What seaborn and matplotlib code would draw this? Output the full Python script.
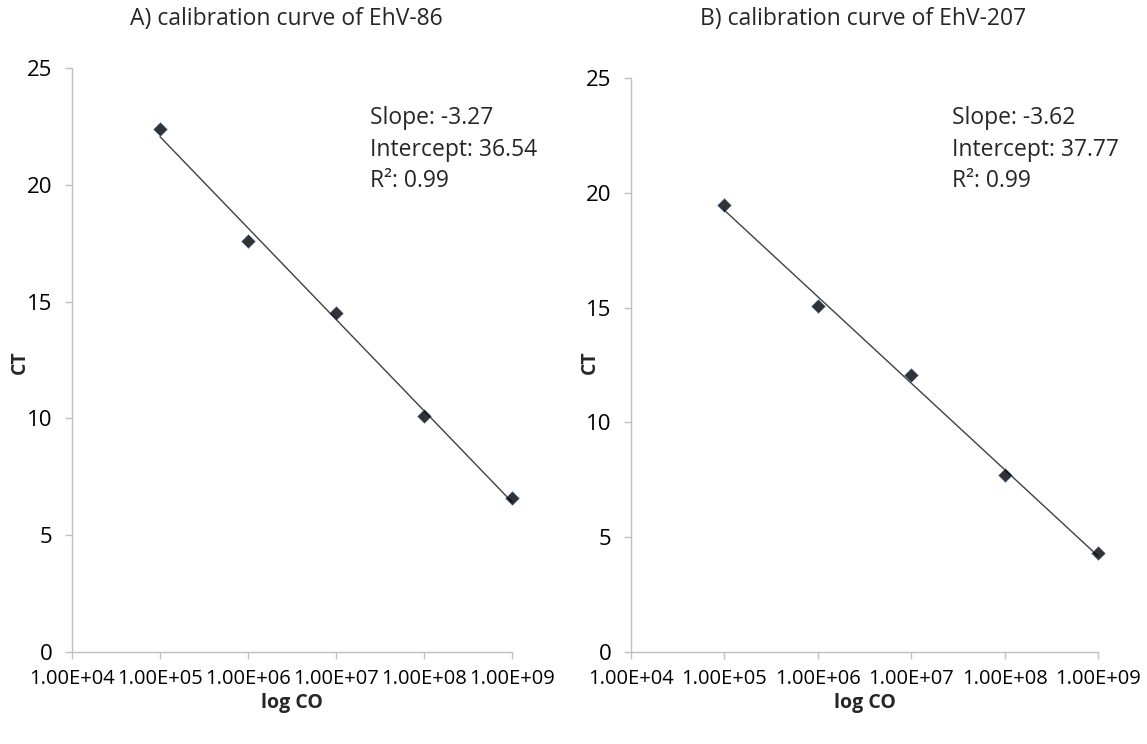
import numpy as np
import pandas as pd
import matplotlib
matplotlib.use("Agg")
import matplotlib.pyplot as plt
import seaborn as sns
from matplotlib.ticker import FixedLocator, FixedFormatter, NullLocator

# ---- data ----
copies = [1e5, 1e6, 1e7, 1e8, 1e9]
ct_ehv86 = [22.4, 17.6, 14.5, 10.1, 6.6]
ct_ehv207 = [19.45, 15.05, 12.05, 7.7, 4.3]
x_ticks = [1e4, 1e5, 1e6, 1e7, 1e8, 1e9]
x_tick_labels = ["1.00E+04", "1.00E+05", "1.00E+06", "1.00E+07", "1.00E+08", "1.00E+09"]
y_ticks = [0, 5, 10, 15, 20, 25]
titles = ["A) calibration curve of EhV-86", "B) calibration curve of EhV-207"]
stats = ["Slope: -3.27\nIntercept: 36.54\nR\u00b2: 0.99",
         "Slope: -3.62\nIntercept: 37.77\nR\u00b2: 0.99"]

sns.set_style("white")
plt.rcParams["font.family"] = ["Open Sans", "DejaVu Sans"]

W, H = 1147, 744
fig = plt.figure(figsize=(W / 100, H / 100), dpi=100)

def fx(px):
    return px / W

def fy(py):
    return 1 - py / H

panels = [
    dict(left=72, right=512, top=68, bottom=652, ct=ct_ehv86,
         title_x=286, ylab_x=20, stats_xy=(0.677, 0.935)),
    dict(left=631, right=1098, top=78, bottom=652, ct=ct_ehv207,
         title_x=863, ylab_x=590, stats_xy=(0.687, 0.951)),
]

spine_col = "#BFBFBF"
fs_x = 14.5
fs_y = 16
fs_big = 16.5

for i, p in enumerate(panels):
    ax = fig.add_axes([fx(p["left"]), fy(p["bottom"]),
                       fx(p["right"] - p["left"]), (p["bottom"] - p["top"]) / H])
    df = pd.DataFrame({"copies": copies, "ct": p["ct"]})
    ax.set_xscale("log")
    sns.regplot(data=df, x="copies", y="ct", ax=ax, logx=True, ci=None,
                marker="D", color="black",
                scatter_kws=dict(s=50, edgecolor="#5b8fd0", linewidths=0.4,
                                 zorder=3, clip_on=False),
                line_kws=dict(color="#404040", lw=1.0, zorder=2, clip_on=False))
    ax.set_xlim(1e4, 1e9)
    ax.set_ylim(0, 25)
    ax.xaxis.set_major_locator(FixedLocator(x_ticks))
    ax.xaxis.set_major_formatter(FixedFormatter(x_tick_labels))
    ax.xaxis.set_minor_locator(NullLocator())
    ax.set_yticks(y_ticks)
    ax.set_xlabel("")
    ax.set_ylabel("")
    for s in ["top", "right"]:
        ax.spines[s].set_visible(False)
    for s in ["left", "bottom"]:
        ax.spines[s].set_color(spine_col)
        ax.spines[s].set_linewidth(1.0)
    ax.tick_params(axis="both", which="major", direction="out", length=5,
                   width=1.0, color=spine_col, labelcolor="black",
                   left=True, bottom=True)
    ax.tick_params(axis="y", pad=9, labelsize=fs_y)
    ax.tick_params(axis="x", pad=7, labelsize=fs_x)
    ax.text(p["stats_xy"][0], p["stats_xy"][1], stats[i],
            transform=ax.transAxes, ha="left", va="top", fontsize=fs_big,
            linespacing=1.42)
    cx = (p["left"] + p["right"]) / 2
    fig.text(fx(p["title_x"]), fy(19), titles[i], ha="center", va="center", fontsize=fs_big)
    fig.text(fx(cx), fy(703), "log CO", ha="center", va="center",
             fontsize=14, fontweight="bold")
    fig.text(fx(p["ylab_x"]), fy(362), "CT", ha="center", va="center",
             rotation=90, fontsize=14, fontweight="bold")

fig.savefig("out.png", dpi=100, facecolor="white")
